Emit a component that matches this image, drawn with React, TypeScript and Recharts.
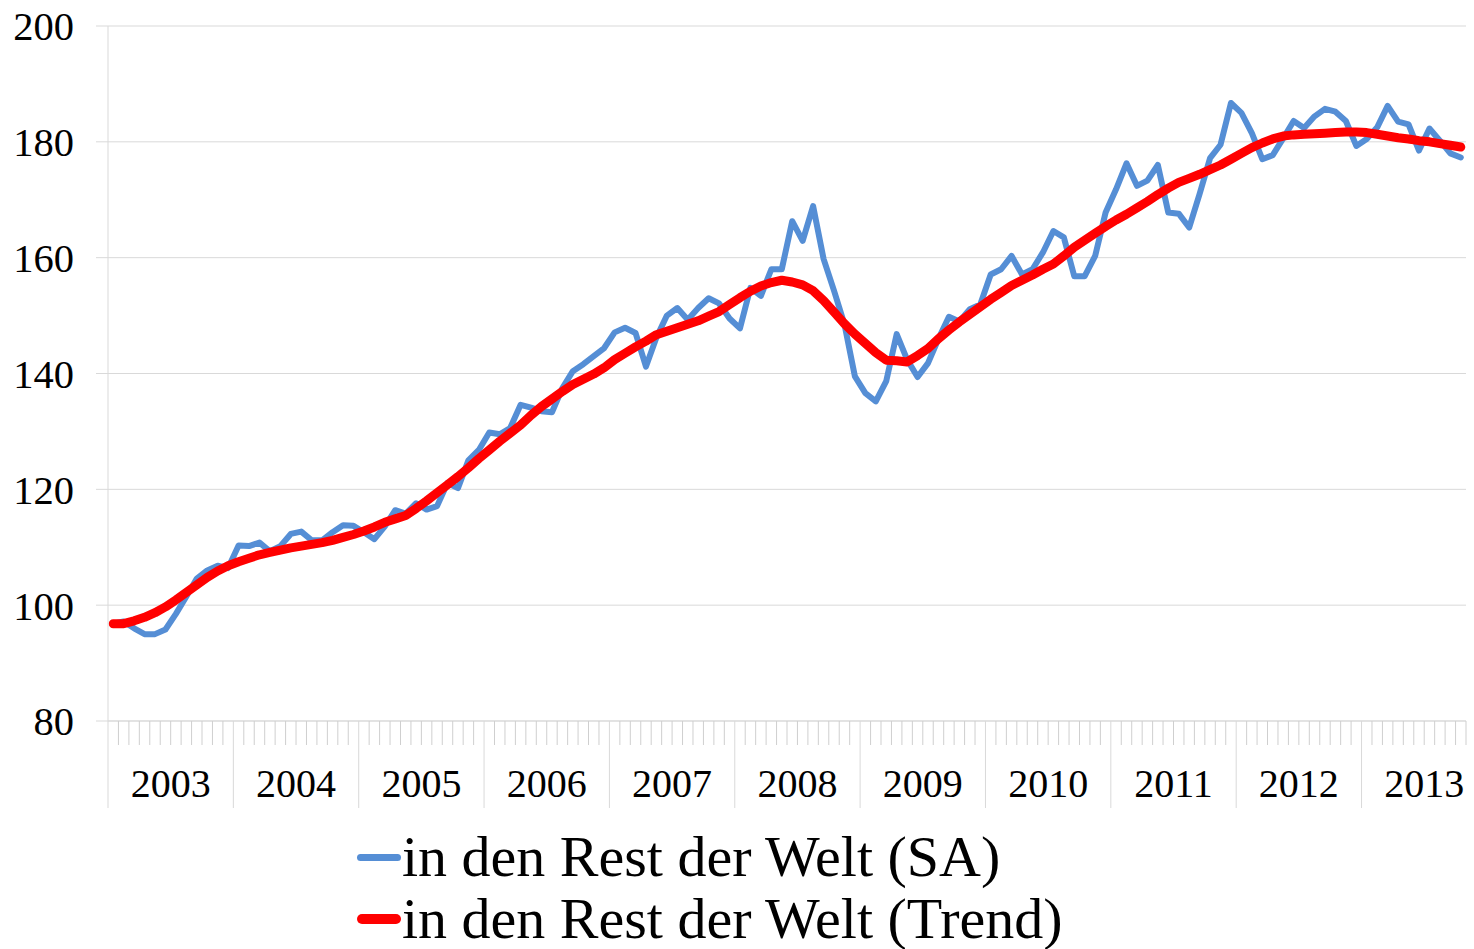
import * as React from "react";
import { LineChart, Line, XAxis, YAxis, CartesianGrid, Legend } from "recharts";

// monthly index, Jan 2003 .. Oct 2013
const YEARS = [2003, 2004, 2005, 2006, 2007, 2008, 2009, 2010, 2011, 2012, 2013];

const SA = [
  96.8, 97.2, 96.0, 95.0, 95.0, 95.8, 98.5, 101.5, 104.6, 106.0, 106.8, 106.4,
  110.3, 110.2, 110.8, 109.3, 110.2, 112.3, 112.7, 111.2, 111.2, 112.6, 113.8, 113.7,
  112.6, 111.4, 113.6, 116.4, 115.8, 117.6, 116.5, 117.1, 121.1, 120.2, 125.0, 126.8,
  129.8, 129.5, 130.6, 134.6, 134.1, 133.5, 133.3, 137.5, 140.4, 141.6, 143.0, 144.4,
  147.1, 147.9, 147.0, 141.2, 146.2, 150.0, 151.3, 149.3, 151.3, 153.0, 152.1, 149.5,
  147.8, 154.8, 153.4, 158.0, 158.0, 166.3, 162.9, 168.9, 159.8, 154.3, 148.5, 139.5,
  136.6, 135.2, 138.7, 146.8, 142.4, 139.4, 141.8, 146.0, 149.8, 149.0, 151.1, 151.9,
  157.1, 158.0, 160.3, 157.1, 158.0, 160.9, 164.6, 163.5, 156.8, 156.8, 160.3, 167.8,
  171.8, 176.3, 172.4, 173.3, 176.0, 167.8, 167.6, 165.2, 171.0, 177.2, 179.5, 186.7,
  185.0, 181.5, 177.0, 177.7, 180.6, 183.6, 182.4, 184.4, 185.7, 185.2, 183.6, 179.3,
  180.5, 182.5, 186.2, 183.5, 183.0, 178.5, 182.3, 180.2, 178.0, 177.3,
];

const TREND = [
  96.8, 96.8, 97.3, 97.9, 98.7, 99.7, 100.9, 102.2, 103.5, 104.8, 105.9, 106.8,
  107.5, 108.1, 108.7, 109.1, 109.5, 109.9, 110.2, 110.5, 110.8, 111.2, 111.7, 112.2,
  112.8, 113.5, 114.3, 114.9, 115.5, 116.7, 118.0, 119.4, 120.8, 122.2, 123.7, 125.3,
  126.8, 128.3, 129.7, 131.1, 132.8, 134.3, 135.6, 136.9, 138.1, 139.0, 139.9, 141.0,
  142.4, 143.5, 144.6, 145.6, 146.7, 147.3, 147.9, 148.5, 149.1, 149.9, 150.7, 151.9,
  153.1, 154.2, 155.1, 155.7, 156.1, 155.8, 155.3, 154.3, 152.6, 150.6, 148.6, 146.8,
  145.2, 143.6, 142.3, 142.2, 142.0, 143.1, 144.3, 146.0, 147.5, 148.9, 150.2, 151.5,
  152.8, 154.0, 155.2, 156.1, 157.0, 158.0, 158.9, 160.3, 161.8, 163.0, 164.2, 165.4,
  166.5, 167.5, 168.6, 169.7, 170.9, 172.0, 173.0, 173.7, 174.4, 175.2, 176.0, 177.0,
  178.0, 179.0, 179.8, 180.5, 181.0, 181.2, 181.3, 181.4, 181.5, 181.6, 181.7, 181.7,
  181.6, 181.3, 181.0, 180.7, 180.5, 180.2, 180.0, 179.7, 179.4, 179.1,
];

const Y_TICKS = [80, 100, 120, 140, 160, 180, 200];

const SERIES = [
  { key: "sa", name: "in den Rest der Welt (SA)", color: "#558ed5", width: 6 },
  { key: "trend", name: "in den Rest der Welt (Trend)", color: "#ff0000", width: 9 },
];

const FONT = "'Liberation Serif', 'Times New Roman', serif";
const GRID = "#d9d9d9";

// point sits in the middle of its month; ticks at month boundaries
const data = SA.map((v, i) => ({ t: i + 0.5, sa: v, trend: TREND[i] }));
const monthTicks = Array.from({ length: SA.length + 1 }, (_, i) => i);

function MonthTick({ x, y, payload }: any) {
  const v = payload.value;
  const yearStart = v % 12 === 0 && v < SA.length;
  return (
    <g>
      <line x1={x} x2={x} y1={y} y2={y + (yearStart ? 87 : 24)} stroke={yearStart ? GRID : "#cfcfcf"} />
      {v % 12 === 6 && (
        <text x={x} y={y + 76} textAnchor="middle" fontFamily={FONT} fontSize={40} fill="#000">
          {YEARS[(v - 6) / 12]}
        </text>
      )}
    </g>
  );
}

function LegendBox() {
  return (
    <div style={{ fontFamily: FONT, fontSize: 58, color: "#000" }}>
      {SERIES.map((s) => (
        <div key={s.key} style={{ display: "flex", alignItems: "center", height: 62, lineHeight: "62px", whiteSpace: "nowrap" }}>
          <div style={{ width: 44, height: s.width + 1, background: s.color, borderRadius: 5, marginRight: 1 }} />
          <span>{s.name}</span>
        </div>
      ))}
    </div>
  );
}

export default function App() {
  return (
    <div style={{ position: "absolute", left: 0, top: 0, width: 1474, height: 949, background: "#fff" }}>
      <LineChart width={1474} height={949} data={data} margin={{ top: 26, right: 8, left: 0, bottom: 141 }}>
        <CartesianGrid vertical={false} stroke={GRID} />
        <XAxis
          dataKey="t" type="number" domain={[0, SA.length]} ticks={monthTicks} interval={0}
          height={87} tickSize={0} tickMargin={0} tickLine={false}
          axisLine={{ stroke: GRID }} tick={<MonthTick />}
        />
        <YAxis
          domain={[80, 200]} ticks={Y_TICKS} interval={0} width={108}
          tickSize={12} tickMargin={22} axisLine={{ stroke: GRID }} tickLine={{ stroke: GRID }}
          tick={{ fill: "#000", fontSize: 40.5, fontFamily: FONT }}
        />
        {SERIES.map((s) => (
          <Line key={s.key} type="linear" dataKey={s.key} name={s.name} stroke={s.color}
                strokeWidth={s.width} strokeLinecap="round" strokeLinejoin="round"
                dot={false} activeDot={false} isAnimationActive={false} />
        ))}
        <Legend content={() => <LegendBox />} layout="vertical" verticalAlign="middle" align="center"
                wrapperStyle={{ left: 357, top: 826, width: 800, height: 123 }} />
      </LineChart>
    </div>
  );
}
